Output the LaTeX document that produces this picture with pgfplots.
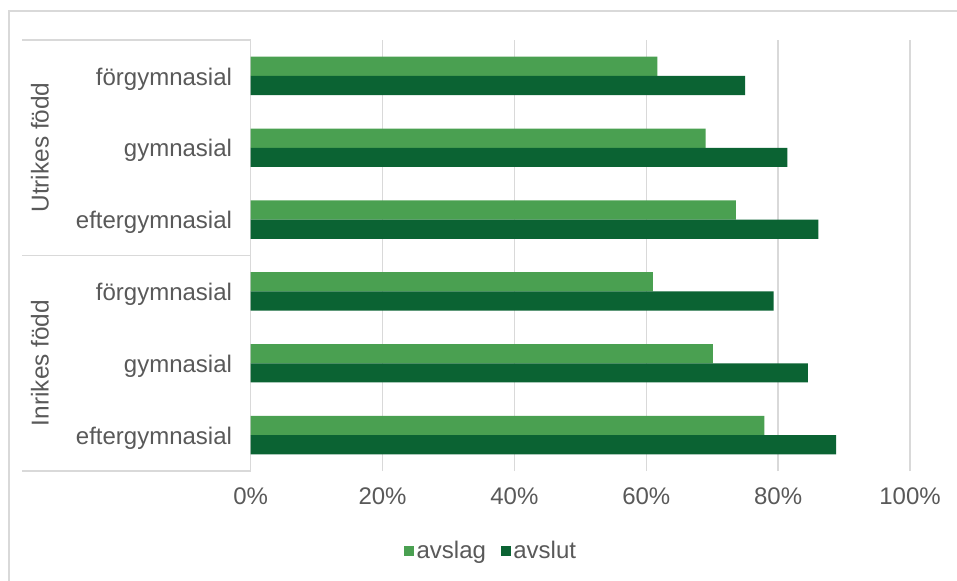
\documentclass[border=0pt]{standalone}
\usepackage{pgfplots}
\pgfplotsset{compat=1.18}
\usepackage{fontspec}
\setmainfont{Liberation Sans}
\definecolor{txt}{HTML}{595959}
\definecolor{gridc}{HTML}{D9D9D9}
\definecolor{lgreen}{HTML}{4AA051}
\definecolor{dgreen}{HTML}{0B6333}
\newlength\px \setlength\px{0.75pt}
\begin{document}
\begin{tikzpicture}
\useasboundingbox (0,0) rectangle (957\px,-581\px);
\fill[white] (0,0) rectangle (957\px,-581\px);
\draw[gridc, line width=2\px] (9\px,-11\px) rectangle (1000\px,-640\px);
\draw[gridc, line width=1.5\px] (22\px,-40\px) -- (251\px,-40\px);
\draw[gridc, line width=1.5\px] (22\px,-255.5\px) -- (251\px,-255.5\px);
\draw[gridc, line width=1.5\px] (22\px,-471\px) -- (251\px,-471\px);
\node[rotate=90, font=\fontsize{18.3}{21}\selectfont, text=txt] at (40\px,-147.5\px) {Utrikes född};
\node[rotate=90, font=\fontsize{18.3}{21}\selectfont, text=txt] at (40\px,-363\px) {Inrikes född};
\begin{axis}[
  at={(250.7\px,-471\px)}, anchor=south west,
  scale only axis, width=659.3\px, height=431\px,
  xbar, xmin=0, xmax=100, ymin=-0.5, ymax=5.5,
  bar width=0.267,
  axis line style={draw=none},
  xmajorgrids, grid style={gridc, line width=1.5\px},
  xtick={0,20,40,60,80,100},
  xticklabels={0\%,20\%,40\%,60\%,80\%,100\%},
  ytick={0,1,2,3,4,5},
  yticklabels={eftergymnasial,gymnasial,förgymnasial,eftergymnasial,gymnasial,förgymnasial},
  major tick length=0pt,
  tick label style={font=\fontsize{18}{21}\selectfont, text=txt},
  yticklabel style={xshift=-14\px, yshift=-3\px},
  xticklabel style={yshift=-12\px},
  legend style={draw=none, fill=none, at={(0.365,-0.186)}, anchor=center,
    font=\fontsize{18}{21}\selectfont, text=txt,
    /tikz/every even column/.append style={column sep=12\px}},
  legend columns=2,
]
\addplot[fill=lgreen, draw=none, bar shift=0.1335,
  legend image code/.code={\fill[lgreen] (0,-5\px) rectangle (10\px,5\px);}]
  coordinates {(61.7,5) (69.0,4) (73.6,3) (61.0,2) (70.1,1) (77.9,0)};
\addlegendentry{avslag}
\addplot[fill=dgreen, draw=none, bar shift=-0.1335,
  legend image code/.code={\fill[dgreen] (0,-5\px) rectangle (10\px,5\px);}]
  coordinates {(75.0,5) (81.4,4) (86.1,3) (79.3,2) (84.5,1) (88.8,0)};
\addlegendentry{avslut}
\end{axis}
\end{tikzpicture}
\end{document}
